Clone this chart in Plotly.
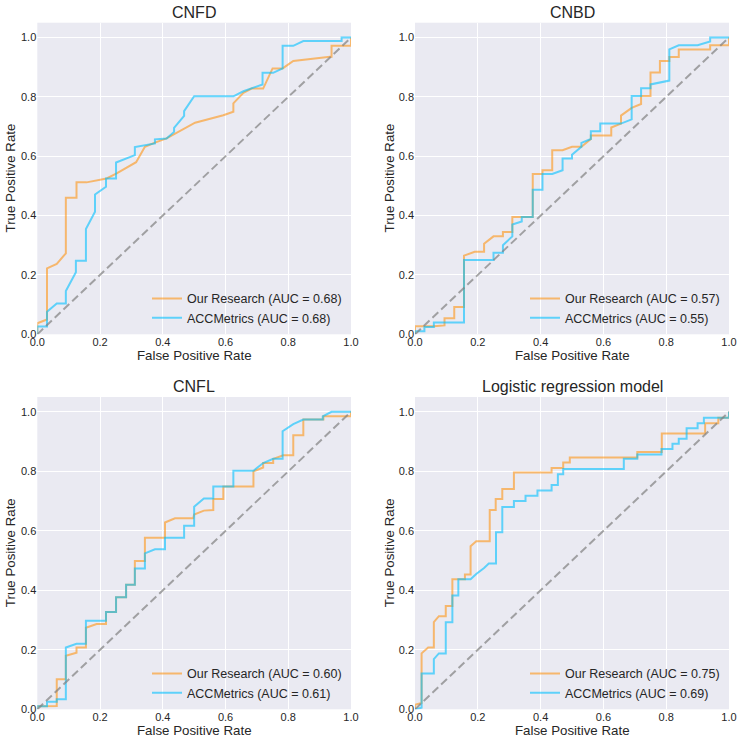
import plotly.graph_objects as go

titles = ["CNFD", "CNBD", "CNFL", "Logistic regression model"]
series_names = ["Our Research", "ACCMetrics"]
auc_ours = [0.68, 0.57, 0.60, 0.75]
auc_acc = [0.68, 0.55, 0.61, 0.69]

# ---- CNFD ----
cnfd_ours_fpr = [0, 0, 0.031, 0.031, 0.062, 0.091, 0.091, 0.125, 0.125, 0.157, 0.221, 0.253, 0.315, 0.343, 0.375, 0.412, 0.503, 0.593, 0.625, 0.625, 0.657, 0.683, 0.72, 0.75, 0.782, 0.816, 0.933, 0.938, 0.938, 1.0, 1.0]
cnfd_ours_tpr = [0, 0.037, 0.05, 0.222, 0.237, 0.273, 0.46, 0.46, 0.512, 0.512, 0.525, 0.542, 0.58, 0.632, 0.646, 0.66, 0.713, 0.738, 0.75, 0.778, 0.814, 0.828, 0.828, 0.896, 0.896, 0.921, 0.935, 0.935, 0.972, 0.972, 1.0]
cnfd_acc_fpr = [0, 0, 0.031, 0.031, 0.062, 0.091, 0.091, 0.123, 0.123, 0.155, 0.155, 0.184, 0.184, 0.219, 0.219, 0.251, 0.251, 0.311, 0.311, 0.375, 0.375, 0.412, 0.436, 0.436, 0.468, 0.468, 0.5, 0.625, 0.657, 0.718, 0.718, 0.752, 0.782, 0.782, 0.816, 0.848, 0.97, 0.97, 1.0]
cnfd_acc_tpr = [0, 0.026, 0.026, 0.076, 0.104, 0.104, 0.146, 0.209, 0.248, 0.248, 0.355, 0.413, 0.471, 0.497, 0.525, 0.525, 0.579, 0.604, 0.631, 0.643, 0.657, 0.66, 0.682, 0.696, 0.736, 0.752, 0.802, 0.802, 0.819, 0.842, 0.881, 0.881, 0.896, 0.972, 0.972, 0.988, 0.988, 1.0, 1.0]

# ---- CNBD ----
cnbd_ours_fpr = [0, 0, 0.06, 0.094, 0.094, 0.125, 0.125, 0.156, 0.156, 0.19, 0.22, 0.22, 0.25, 0.28, 0.28, 0.31, 0.31, 0.375, 0.375, 0.406, 0.406, 0.437, 0.437, 0.47, 0.5, 0.53, 0.56, 0.56, 0.625, 0.625, 0.656, 0.656, 0.69, 0.72, 0.72, 0.75, 0.75, 0.78, 0.78, 0.81, 0.81, 0.84, 0.84, 0.94, 0.94, 1.0, 1.0]
cnbd_ours_tpr = [0, 0.027, 0.027, 0.03, 0.054, 0.054, 0.092, 0.092, 0.265, 0.278, 0.278, 0.305, 0.33, 0.33, 0.345, 0.345, 0.395, 0.395, 0.54, 0.54, 0.553, 0.553, 0.62, 0.62, 0.632, 0.632, 0.658, 0.67, 0.67, 0.697, 0.71, 0.737, 0.763, 0.776, 0.803, 0.803, 0.882, 0.882, 0.921, 0.921, 0.934, 0.934, 0.96, 0.96, 0.974, 0.974, 1.0]
cnbd_acc_fpr = [0, 0, 0.03, 0.03, 0.06, 0.06, 0.156, 0.156, 0.25, 0.25, 0.28, 0.28, 0.31, 0.31, 0.34, 0.34, 0.375, 0.375, 0.406, 0.406, 0.437, 0.47, 0.47, 0.5, 0.5, 0.53, 0.53, 0.56, 0.56, 0.59, 0.59, 0.656, 0.69, 0.69, 0.72, 0.72, 0.75, 0.75, 0.81, 0.81, 0.84, 0.9, 0.94, 0.94, 1.0]
cnbd_acc_tpr = [0, 0.01, 0.01, 0.025, 0.025, 0.04, 0.04, 0.25, 0.25, 0.275, 0.275, 0.3, 0.33, 0.37, 0.38, 0.395, 0.395, 0.487, 0.487, 0.54, 0.54, 0.553, 0.592, 0.592, 0.605, 0.632, 0.645, 0.658, 0.684, 0.684, 0.71, 0.71, 0.724, 0.803, 0.803, 0.829, 0.829, 0.842, 0.855, 0.96, 0.974, 0.974, 0.987, 1.0, 1.0]

# ---- CNFL ----
cnfl_ours_fpr = [0, 0, 0.062, 0.062, 0.091, 0.091, 0.125, 0.125, 0.155, 0.155, 0.189, 0.219, 0.219, 0.251, 0.251, 0.283, 0.283, 0.311, 0.311, 0.343, 0.343, 0.407, 0.407, 0.439, 0.497, 0.5, 0.531, 0.561, 0.561, 0.593, 0.593, 0.689, 0.689, 0.72, 0.72, 0.752, 0.752, 0.784, 0.816, 0.816, 0.848, 0.848, 0.912, 0.912, 0.97, 1.0, 1.0]
cnfl_ours_tpr = [0, 0.01, 0.011, 0.101, 0.101, 0.18, 0.19, 0.208, 0.208, 0.274, 0.287, 0.287, 0.327, 0.327, 0.377, 0.377, 0.419, 0.419, 0.499, 0.499, 0.577, 0.577, 0.628, 0.642, 0.642, 0.655, 0.668, 0.67, 0.707, 0.707, 0.749, 0.749, 0.8, 0.813, 0.828, 0.828, 0.842, 0.854, 0.854, 0.921, 0.921, 0.974, 0.974, 0.985, 0.985, 0.985, 1.0]
cnfl_acc_fpr = [0, 0, 0.031, 0.031, 0.062, 0.062, 0.091, 0.091, 0.125, 0.155, 0.155, 0.219, 0.219, 0.251, 0.251, 0.283, 0.283, 0.311, 0.311, 0.343, 0.343, 0.375, 0.407, 0.407, 0.468, 0.468, 0.5, 0.5, 0.531, 0.561, 0.561, 0.625, 0.625, 0.689, 0.72, 0.752, 0.782, 0.782, 0.816, 0.848, 0.91, 0.91, 0.938, 1.0]
cnfl_acc_tpr = [0, 0.01, 0.01, 0.025, 0.025, 0.034, 0.034, 0.208, 0.22, 0.22, 0.298, 0.298, 0.327, 0.327, 0.377, 0.377, 0.419, 0.419, 0.473, 0.473, 0.524, 0.538, 0.538, 0.577, 0.577, 0.617, 0.617, 0.681, 0.709, 0.709, 0.749, 0.749, 0.802, 0.802, 0.828, 0.842, 0.842, 0.935, 0.959, 0.974, 0.974, 0.985, 1.0, 1.0]

# ---- Logistic regression model ----
lr_ours_fpr = [0, 0, 0.021, 0.021, 0.042, 0.06, 0.06, 0.076, 0.098, 0.098, 0.119, 0.119, 0.159, 0.159, 0.177, 0.177, 0.195, 0.238, 0.238, 0.257, 0.257, 0.278, 0.278, 0.315, 0.315, 0.435, 0.435, 0.472, 0.472, 0.493, 0.493, 0.708, 0.708, 0.786, 0.786, 0.924, 0.924, 0.966, 0.966, 1.0, 1.0]
lr_ours_tpr = [0, 0.015, 0.021, 0.188, 0.208, 0.208, 0.293, 0.313, 0.313, 0.347, 0.347, 0.437, 0.437, 0.453, 0.453, 0.548, 0.565, 0.565, 0.67, 0.67, 0.707, 0.707, 0.741, 0.741, 0.796, 0.796, 0.811, 0.811, 0.83, 0.83, 0.847, 0.847, 0.865, 0.865, 0.927, 0.927, 0.962, 0.962, 0.98, 0.98, 1.0]
lr_acc_fpr = [0, 0.021, 0.021, 0.06, 0.06, 0.076, 0.098, 0.098, 0.119, 0.119, 0.138, 0.138, 0.177, 0.195, 0.22, 0.235, 0.258, 0.258, 0.278, 0.278, 0.315, 0.315, 0.352, 0.352, 0.39, 0.39, 0.435, 0.435, 0.455, 0.455, 0.472, 0.472, 0.665, 0.665, 0.708, 0.708, 0.785, 0.785, 0.82, 0.82, 0.84, 0.84, 0.865, 0.865, 0.9, 0.9, 0.92, 0.92, 1.0, 1.0]
lr_acc_tpr = [0, 0.005, 0.12, 0.12, 0.169, 0.188, 0.188, 0.293, 0.293, 0.383, 0.383, 0.437, 0.437, 0.455, 0.475, 0.49, 0.49, 0.595, 0.595, 0.68, 0.68, 0.7, 0.7, 0.718, 0.718, 0.736, 0.736, 0.754, 0.754, 0.79, 0.79, 0.808, 0.808, 0.842, 0.842, 0.857, 0.857, 0.875, 0.875, 0.893, 0.893, 0.91, 0.91, 0.945, 0.945, 0.962, 0.962, 0.98, 0.98, 1.0]

chance = [0, 1]
tick_vals = [0.0, 0.2, 0.4, 0.6, 0.8, 1.0]
tick_text = ["0.0", "0.2", "0.4", "0.6", "0.8", "1.0"]
x_title = "False Positive Rate"
y_title = "True Positive Rate"

panels = [
    (cnfd_ours_fpr, cnfd_ours_tpr, cnfd_acc_fpr, cnfd_acc_tpr),
    (cnbd_ours_fpr, cnbd_ours_tpr, cnbd_acc_fpr, cnbd_acc_tpr),
    (cnfl_ours_fpr, cnfl_ours_tpr, cnfl_acc_fpr, cnfl_acc_tpr),
    (lr_ours_fpr, lr_ours_tpr, lr_acc_fpr, lr_acc_tpr),
]

W, H = 738, 740


def px_x(p):
    return p / W


def px_y(p):
    return (H - p) / H


# panel pixel boxes: (left, right), (top, bottom)
col_px = [(37.3, 351.0), (415.0, 729.0)]
row_px = [(22.7, 334.3), (397.0, 709.3)]
x_domains = [[px_x(a), px_x(b)] for a, b in col_px]
y_domains = [[px_y(b), px_y(a)] for a, b in row_px]
ytitle_x_px = [10, 389]
legend_left_px = [147, 525]

ORANGE = "rgba(255,140,0,0.55)"
BLUE = "rgba(0,191,255,0.6)"
GRAY = "rgba(128,128,128,0.7)"
TXT = "#262626"
FONT = "Liberation Sans, Arial, sans-serif"

fig = go.Figure()
layout = dict(
    width=W, height=H,
    margin=dict(l=0, r=0, t=0, b=0, autoexpand=False),
    paper_bgcolor="white",
    plot_bgcolor="#EAEAF2",
    font=dict(family=FONT, color=TXT),
    annotations=[],
)

for i, (of, ot, af, at) in enumerate(panels):
    r, c = divmod(i, 2)
    suffix = "" if i == 0 else str(i + 1)
    xa, ya = "x" + suffix, "y" + suffix
    leg = "legend" + suffix
    fig.add_trace(go.Scatter(x=of, y=ot, mode="lines", line=dict(color=ORANGE, width=2),
                             name=f"{series_names[0]} (AUC = {auc_ours[i]:.2f})",
                             xaxis=xa, yaxis=ya, legend=leg))
    fig.add_trace(go.Scatter(x=af, y=at, mode="lines", line=dict(color=BLUE, width=2),
                             name=f"{series_names[1]} (AUC = {auc_acc[i]:.2f})",
                             xaxis=xa, yaxis=ya, legend=leg))
    fig.add_trace(go.Scatter(x=chance, y=chance, mode="lines",
                             line=dict(color=GRAY, width=2, dash="8px,4px"),
                             showlegend=False, xaxis=xa, yaxis=ya))
    axis_common = dict(
        showgrid=True, gridcolor="white", gridwidth=1, zeroline=False,
        showline=False, ticks="", tickvals=tick_vals, ticktext=tick_text,
        tickfont=dict(size=11, color=TXT, family=FONT),
        automargin=False, ticklabeloverflow="allow",
    )
    layout["xaxis" + suffix] = dict(axis_common, domain=x_domains[c], range=[0, 1], anchor=ya)
    layout["yaxis" + suffix] = dict(axis_common, domain=y_domains[r], range=[0, 1.05], anchor=xa)
    layout[leg] = dict(
        x=px_x(legend_left_px[c]), y=px_y(row_px[r][1] - 1.5),
        xanchor="left", yanchor="bottom",
        bgcolor="rgba(0,0,0,0)", borderwidth=0,
        font=dict(size=12.5, color=TXT, family=FONT),
        tracegroupgap=0,
    )
    cx = (x_domains[c][0] + x_domains[c][1]) / 2
    cy = (y_domains[r][0] + y_domains[r][1]) / 2
    layout["annotations"].append(dict(
        text=titles[i], x=cx, y=y_domains[r][1],
        xref="paper", yref="paper", xanchor="center", yanchor="bottom", yshift=0,
        showarrow=False, font=dict(size=16, color=TXT, family=FONT),
    ))
    layout["annotations"].append(dict(
        text=x_title, x=cx, y=px_y(row_px[r][1] + 21),
        xref="paper", yref="paper", xanchor="center", yanchor="middle",
        showarrow=False, font=dict(size=13.3, color=TXT, family=FONT),
    ))
    layout["annotations"].append(dict(
        text=y_title, x=px_x(ytitle_x_px[c]), y=cy, textangle=-90,
        xref="paper", yref="paper", xanchor="center", yanchor="middle",
        showarrow=False, font=dict(size=13.3, color=TXT, family=FONT),
    ))

fig.update_layout(**layout)
# remove the default 8px page margin so the figure fills the window exactly
fig.write_html("out.html",
               config={"displayModeBar": False},
               post_script="document.body.style.margin='0';document.body.style.overflow='hidden';")
